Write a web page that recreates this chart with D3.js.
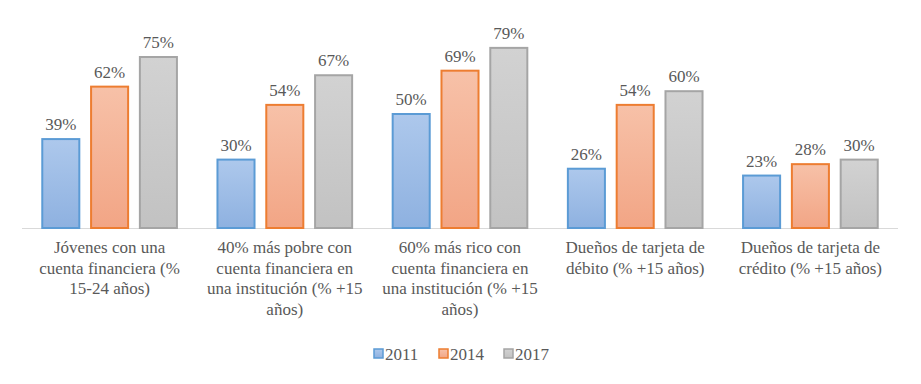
<!DOCTYPE html>
<html>
<head>
<meta charset="utf-8">
<script src="https://cdn.jsdelivr.net/npm/d3@7"></script>
<style>
  body { margin: 0; background: white; }
</style>
</head>
<body>
<div id="chart-area"></div>
<script>
var categories = [
  ["Jóvenes con una", "cuenta financiera (%", "15-24 años)"],
  ["40% más pobre con", "cuenta financiera en", "una institución (% +15", "años)"],
  ["60% más rico con", "cuenta financiera en", "una institución (% +15", "años)"],
  ["Dueños de tarjeta de", "débito (% +15 años)"],
  ["Dueños de tarjeta de", "crédito (% +15 años)"]
];
var years = ["2011", "2014", "2017"];
var v2011 = [39, 30, 50, 26, 23];
var v2014 = [62, 54, 69, 54, 28];
var v2017 = [75, 67, 79, 60, 30];

var series = [v2011, v2014, v2017];
var fills = [["#adc8ec", "#8eb1e0"], ["#f7c1a8", "#f2a585"], ["#d2d2d2", "#c2c2c2"]];
var strokes = ["#5b9bd5", "#ed7d31", "#a5a5a5"];

var width = 921, height = 384;
var baseY = 228;
var font = "Liberation Serif";

var svg = d3.select("#chart-area")
  .append("svg")
  .attr("width", width)
  .attr("height", height)
  .attr("font-family", font);

var defs = svg.append("defs");
fills.forEach((f, i) => {
  var grad = defs.append("linearGradient")
    .attr("id", "grad" + i)
    .attr("x1", 0).attr("y1", 0).attr("x2", 0).attr("y2", 1);
  grad.append("stop").attr("offset", "0%").attr("stop-color", f[0]);
  grad.append("stop").attr("offset", "100%").attr("stop-color", f[1]);
});

var x0 = d3.scaleBand()
  .domain(d3.range(categories.length))
  .range([22, 898])
  .paddingInner(0)
  .paddingOuter(0);

var x1 = d3.scaleBand()
  .domain(years)
  .range([x0.bandwidth() * 0.11, x0.bandwidth() * 0.89])
  .paddingInner(0.2);

var y = d3.scaleLinear()
  .domain([0, 100])
  .range([baseY, 0]);

// axis line
svg.append("line")
  .attr("x1", 22).attr("x2", 898)
  .attr("y1", baseY + 0.5).attr("y2", baseY + 0.5)
  .attr("stroke", "#d9d9d9")
  .attr("stroke-width", 1);

var groups = svg.selectAll(".group")
  .data(categories)
  .enter().append("g")
  .attr("class", "group")
  .attr("transform", (d, i) => "translate(" + x0(i) + ",0)");

groups.each(function(c, i) {
  var g = d3.select(this);
  years.forEach((yr, k) => {
    var v = series[k][i];
    g.append("rect")
      .attr("x", x1(yr) + 1)
      .attr("y", y(v))
      .attr("width", x1.bandwidth() - 2)
      .attr("height", baseY - y(v))
      .attr("fill", "url(#grad" + k + ")")
      .attr("stroke", strokes[k])
      .attr("stroke-width", 2);
    g.append("text")
      .attr("x", x1(yr) + x1.bandwidth() / 2)
      .attr("y", y(v) - 9)
      .attr("text-anchor", "middle")
      .attr("font-family", font)
      .attr("font-size", 17)
      .attr("fill", "#595959")
      .text(v + "%");
  });
  var t = g.append("text")
    .attr("text-anchor", "middle")
    .attr("font-family", font)
    .attr("font-size", 17)
    .attr("fill", "#595959");
  c.forEach((line, j) => {
    t.append("tspan")
      .attr("x", x0.bandwidth() / 2)
      .attr("y", 253 + j * 20.5)
      .text(line);
  });
});

// legend
var legend = svg.append("g").attr("transform", "translate(374,348)");
var legX = [0, 65, 130];
years.forEach((yr, k) => {
  legend.append("rect")
    .attr("x", legX[k])
    .attr("y", 1)
    .attr("width", 9)
    .attr("height", 9)
    .attr("fill", "url(#grad" + k + ")")
    .attr("stroke", strokes[k])
    .attr("stroke-width", 1.5);
  legend.append("text")
    .attr("x", legX[k] + 11)
    .attr("y", 12)
    .attr("font-family", font)
    .attr("font-size", 17)
    .attr("fill", "#595959")
    .text(yr);
});
</script>
</body>
</html>
